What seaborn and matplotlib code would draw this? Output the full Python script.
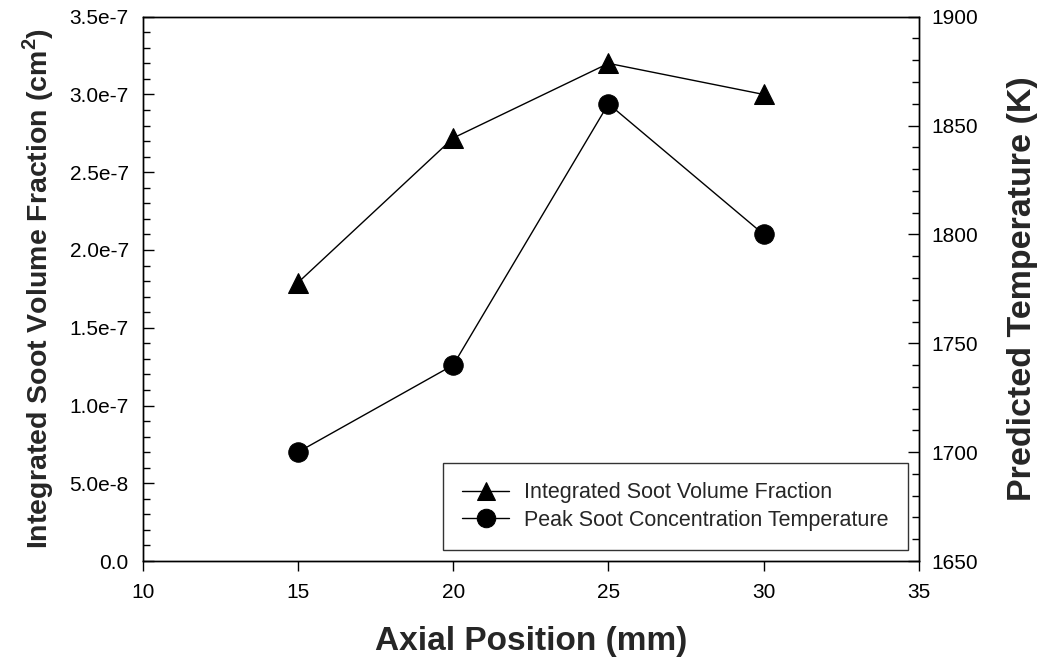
import matplotlib
matplotlib.use("Agg")
import matplotlib.pyplot as plt
import seaborn as sns
import pandas as pd
from matplotlib.ticker import AutoMinorLocator, FuncFormatter, MultipleLocator

# values
axial_pos = [15, 20, 25, 30]
soot_fraction = [1.79e-7, 2.72e-7, 3.20e-7, 3.00e-7]
peak_temp = [1700, 1740, 1860, 1800]

x_ticks = [10, 15, 20, 25, 30, 35]

sns.set_theme(style="ticks")
plt.rcParams["font.family"] = ["Liberation Sans", "DejaVu Sans"]
plt.rcParams["mathtext.fontset"] = "custom"
plt.rcParams["mathtext.rm"] = "Liberation Sans"
plt.rcParams["mathtext.bf"] = "Liberation Sans:bold"

df = pd.DataFrame({"pos": axial_pos, "soot": soot_fraction, "temp": peak_temp})


def sci_fmt(v, _pos):
    if abs(v) < 1e-20:
        return "0.0"
    m, e = f"{v:.1e}".split("e")
    return f"{m}e{int(e)}"


fig = plt.figure(figsize=(10.39, 6.63), dpi=100)
ax = fig.add_axes([0.1373, 0.1538, 0.7472, 0.821])
ax2 = ax.twinx()

sns.lineplot(data=df, x="pos", y="soot", ax=ax, color="black", marker="^",
             markersize=14, linewidth=1.0, markeredgecolor="black",
             label="Integrated Soot Volume Fraction", legend=False)
sns.lineplot(data=df, x="pos", y="temp", ax=ax2, color="black", marker="o",
             markersize=14, linewidth=1.0, markeredgecolor="black",
             label="Peak Soot Concentration Temperature", legend=False)

ax.set_xlim(10, 35)
ax.set_ylim(0, 3.5e-7)
ax2.set_ylim(1650, 1900)
ax.set_xticks(x_ticks)

ax.yaxis.set_major_locator(MultipleLocator(0.5e-7))
ax.yaxis.set_major_formatter(FuncFormatter(sci_fmt))
ax.yaxis.set_minor_locator(AutoMinorLocator(5))
ax2.yaxis.set_major_locator(MultipleLocator(50))
ax2.yaxis.set_minor_locator(AutoMinorLocator(5))

for a in (ax, ax2):
    for s in a.spines.values():
        s.set_color("black")
        s.set_linewidth(1.0)
ax.tick_params(axis="x", direction="out", length=7, width=1, labelsize=15,
               colors="black", pad=9)
ax.tick_params(axis="y", which="major", direction="in", length=8, width=1,
               labelsize=15, colors="black", pad=10)
ax.tick_params(axis="y", which="minor", direction="in", length=5, width=1,
               colors="black")
ax2.tick_params(axis="y", which="major", direction="in", length=8, width=1,
                labelsize=15, colors="black", pad=9)
ax2.tick_params(axis="y", which="minor", direction="in", length=5, width=1,
                colors="black")

ax.set_xlabel("Axial Position (mm)", fontsize=24, fontweight="bold", labelpad=17)
ax.set_ylabel(r"Integrated Soot Volume Fraction (cm$^{\mathbf{2}}$)",
              fontsize=20.5, fontweight="bold", labelpad=10)
ax2.set_ylabel("Predicted Temperature (K)", fontsize=24.5, fontweight="bold",
               labelpad=21)

h1, l1 = ax.get_legend_handles_labels()
h2, l2 = ax2.get_legend_handles_labels()
leg = ax2.legend(h1 + h2, l1 + l2, loc="lower right", fontsize=15.5,
                 frameon=True, fancybox=False, edgecolor="black",
                 borderaxespad=0.5, borderpad=0.9, handlelength=2.2,
                 handletextpad=0.7, labelspacing=0.3, markerscale=0.95)
leg.get_frame().set_linewidth(1.0)

fig.savefig("out.png", dpi=100)
